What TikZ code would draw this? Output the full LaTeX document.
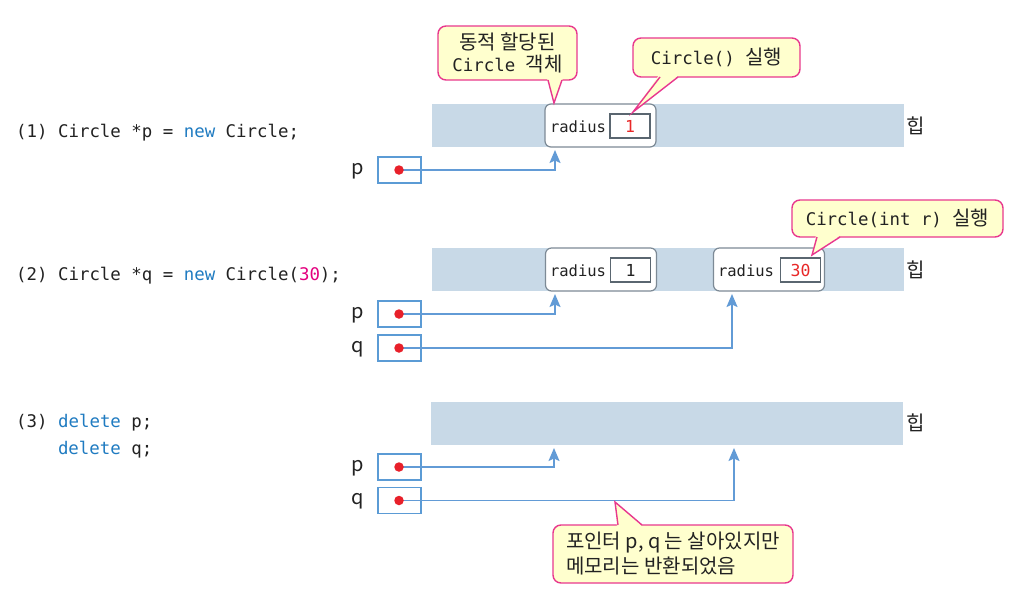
\documentclass[tikz,border=0pt]{standalone}
\usepackage{fontspec}
\setmonofont{DejaVu Sans Mono}
\newfontfamily\kr{Noto Sans CJK KR}
\usetikzlibrary{arrows.meta}
\definecolor{heapc}{RGB}{200,217,231}
\definecolor{objc}{RGB}{125,138,150}
\definecolor{valc}{RGB}{90,102,112}
\definecolor{ptrc}{RGB}{91,155,213}
\definecolor{arrc}{RGB}{98,155,214}
\definecolor{dotred}{RGB}{232,32,42}
\definecolor{valred}{RGB}{232,40,40}
\definecolor{cborder}{RGB}{232,56,142}
\definecolor{cfill}{RGB}{255,255,206}
\definecolor{newc}{RGB}{31,123,193}
\definecolor{numc}{RGB}{228,0,127}
\definecolor{codec}{RGB}{34,34,34}
\begin{document}
\begin{tikzpicture}[x=1pt,y=-1pt,
  heap/.style={fill=heapc,draw=none,minimum width=472pt,minimum height=43pt,inner sep=0},
  obj/.style={draw=objc,fill=white,rounded corners=6pt,line width=1.2pt,minimum width=111pt,minimum height=43pt,inner sep=0},
  valbox/.style={draw=valc,fill=white,line width=1.1pt,minimum width=40pt,minimum height=24pt,inner sep=0,font=\ttfamily\fontsize{16.5}{16}\selectfont},
  radlbl/.style={inner sep=0,font=\ttfamily\fontsize{15.5}{15}\selectfont,text=codec},
  ptrbox/.style={draw=ptrc,line width=1.3pt,minimum width=43pt,minimum height=26pt,inner sep=0},
  dotn/.style={circle,fill=dotred,inner sep=0,minimum size=9.5pt},
  ptr/.style={draw=arrc,line width=1.6pt,-{Stealth[length=13pt,width=11pt,inset=2.5pt]}},
  callbox/.style={draw=cborder,fill=cfill,line width=1.4pt,rounded corners=8pt,inner sep=0,font=\kr\fontsize{20}{22}\selectfont,text=codec},
  tailfill/.style={fill=cfill},
  tailline/.style={draw=cborder,line width=1.4pt,line join=miter},
  code/.style={anchor=base west,inner sep=0,font=\ttfamily\fontsize{17.4}{20}\selectfont,text=codec},
  krl/.style={inner sep=0,font=\kr\fontsize{20}{20}\selectfont,text=codec}
]
\fill[white] (0,0) rectangle (1010,595);
\useasboundingbox (0,0) rectangle (1010,595);

% ---------- code lines ----------
\node[code] (code1) at (16,137) {(1) Circle *p = {\color{newc}new} Circle;};
\node[code] (code2) at (16,280) {(2) Circle *q = {\color{newc}new} Circle({\color{numc}30});};
\node[code] (code3) at (16,427) {(3) {\color{newc}delete} p;};
\node[code] (code4) at (57.8,454) {{\color{newc}delete} q;};

% ---------- heaps ----------
\node[heap] (h1) at (668,125.5) {};
\node[heap] (h2) at (668,269.5) {};
\node[heap] (h3) at (667,423.5) {};
\node[krl] (hl1) at (916,126) {힙};
\node[krl] (hl2) at (916,270) {힙};
\node[krl] (hl3) at (916,423) {힙};

% ---------- objects ----------
\node[obj] (o1) at (600.5,125.5) {};
\node[radlbl] (r1) at (578,127) {radius};
\node[valbox,text=valred] (v1) at (630,126) {1};

\node[obj] (o21) at (601,269.5) {};
\node[radlbl] (r21) at (578,271) {radius};
\node[valbox,text=codec] (v21) at (630.5,270) {1};

\node[obj] (o22) at (769,269.5) {};
\node[radlbl] (r22) at (746,271) {radius};
\node[valbox,text=valred] (v22) at (800.5,270) {30};

% ---------- pointer boxes ----------
\node[ptrbox] (pb1) at (399.5,170) {};
\node[krl] (pl1) at (358,171) {p};
\node[ptrbox] (pb2) at (399.5,314) {};
\node[krl] (pl2) at (358,315) {p};
\node[ptrbox] (qb2) at (399.5,348) {};
\node[krl] (ql2) at (358,349) {q};
\node[ptrbox] (pb3) at (399.5,467) {};
\node[krl] (pl3) at (358,468) {p};
\node[ptrbox] (qb3) at (399.5,500.5) {};
\node[krl] (ql3) at (358,501.5) {q};

\coordinate (d1) at (399,170);
\coordinate (d2) at (399,314);
\coordinate (d3) at (399,348);
\coordinate (d4) at (399,467);
\coordinate (d5) at (399,500.5);
\coordinate (t1) at (555,150);
\coordinate (t2) at (555,294);
\coordinate (t3) at (732,294);
\coordinate (t4) at (554,448);
\coordinate (t5) at (734,448);

\draw[ptr] (d1) -| (t1);
\draw[ptr] (d2) -| (t2);
\draw[ptr] (d3) -| (t3);
\draw[ptr] (d4) -| (t4);
\draw[ptr] (d5) -| (t5);

\node[dotn] (dot1) at (d1) {};
\node[dotn] (dot2) at (d2) {};
\node[dotn] (dot3) at (d3) {};
\node[dotn] (dot4) at (d4) {};
\node[dotn] (dot5) at (d5) {};

% ---------- callouts ----------
\node[callbox,minimum width=139pt,minimum height=54pt,align=center] (c1) at (507.5,53)
  {동적 할당된\\{\ttfamily\fontsize{17.4}{22}\selectfont Circle }객체};
\fill[tailfill] (547,78) -- (554,103) -- (563,78) -- cycle;
\draw[tailline] (548,80) -- (554,103) -- (562,80);

\node[callbox,minimum width=167pt,minimum height=39pt] (c2) at (716.5,57.5)
  {{\ttfamily\fontsize{17.4}{22}\selectfont Circle() }실행};
\fill[tailfill] (659,75) -- (633,112) -- (679,75) -- cycle;
\draw[tailline] (660,77) -- (633,112) -- (678,77);

\node[callbox,minimum width=211pt,minimum height=37pt] (c3) at (897.5,218.5)
  {{\ttfamily\fontsize{17.4}{22}\selectfont Circle(int r) }실행};
\fill[tailfill] (816,235) -- (812,255) -- (841,235) -- cycle;
\draw[tailline] (817,237) -- (812,255) -- (840,237);

\node[callbox,minimum width=240pt,minimum height=58pt,align=left,font=\kr\fontsize{20}{25}\selectfont] (c4) at (673,554)
  {포인터 p, q 는 살아있지만\\메모리는 반환되었음};
\fill[tailfill] (617,527) -- (615,502) -- (643,527) -- cycle;
\draw[tailline] (618,525) -- (615,502) -- (642,525);
\end{tikzpicture}
\end{document}
